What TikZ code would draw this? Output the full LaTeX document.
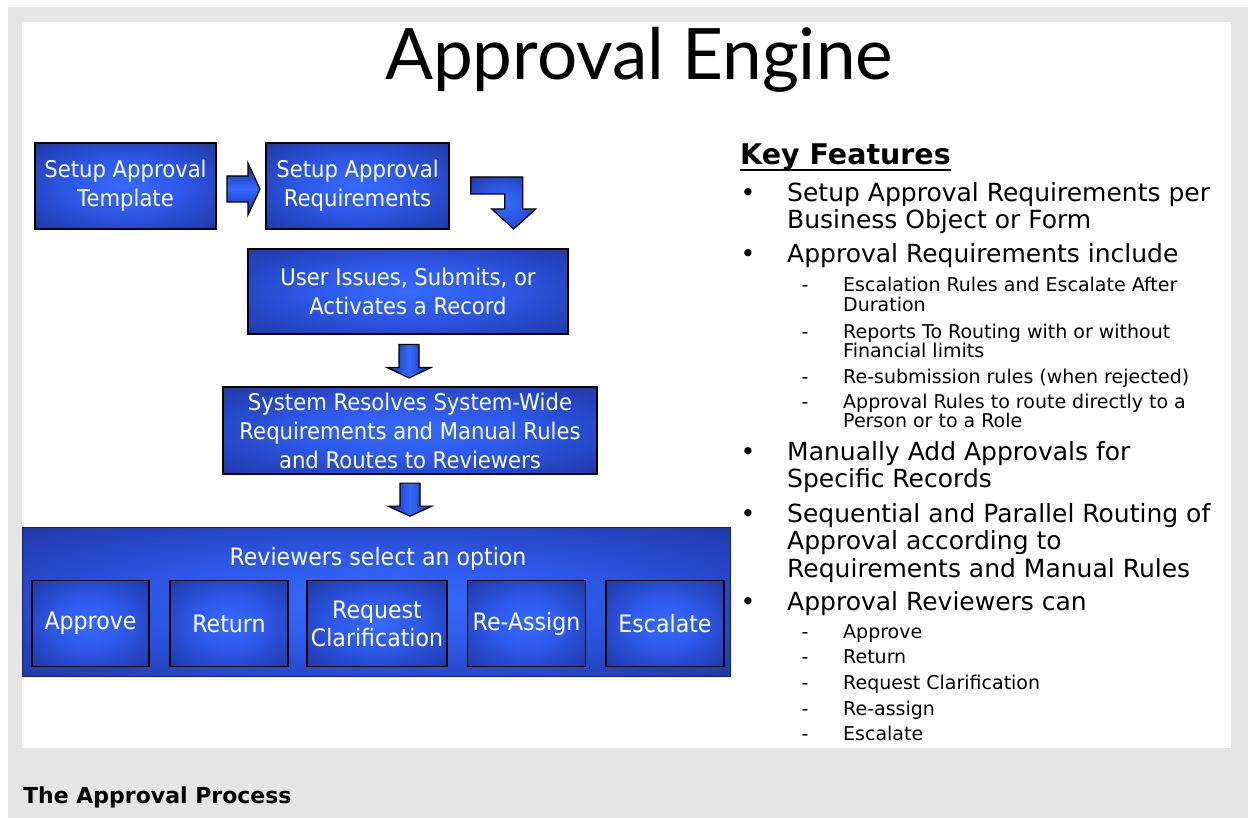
\documentclass[tikz,border=0pt]{standalone}
\usepackage{fontspec}
\setmainfont{DejaVu Sans}
\newfontfamily\titlefont{Lato}
\newfontfamily\boxfont[FakeStretch=0.92]{DejaVu Sans}
\usetikzlibrary{calc}

\definecolor{pagegrey}{RGB}{229,229,229}
\definecolor{glowin}{RGB}{54,106,255}
\definecolor{glowmid}{RGB}{46,90,236}
\definecolor{glowlow}{RGB}{34,62,180}
\definecolor{glowout}{RGB}{24,38,115}
\definecolor{arrowlight}{RGB}{52,104,255}
\definecolor{arrowdark}{RGB}{22,44,150}
\definecolor{panelline}{RGB}{20,34,100}

% soft blue glow used for the process boxes
\pgfdeclareradialshading{boxglow}{\pgfpoint{0bp}{0bp}}{%
  color(0bp)=(glowin); color(14bp)=(glowmid); color(32bp)=(glowlow); color(47bp)=(glowout); color(75bp)=(glowout)}

\tikzset{
  stepbox/.style={draw=black, line width=1.5pt, shading=boxglow, text=white,
    font=\boxfont\fontsize{23}{29}\selectfont, align=center, inner sep=0pt},
  optbox/.style={stepbox, minimum height=86pt, font=\boxfont\fontsize{24}{28}\selectfont},
  panelbox/.style={draw=panelline, line width=1pt, shading=boxglow, inner sep=0pt},
  downarrow/.style={draw=black, line width=1.2pt, line join=miter,
    left color=arrowdark, right color=arrowdark, middle color=arrowlight},
  rightarrow/.style={draw=black, line width=1.2pt, line join=miter,
    top color=arrowdark, bottom color=arrowdark, middle color=arrowlight},
  bentarrow/.style={draw=black, line width=1.2pt, line join=miter, shading=boxglow},
  keytext/.style={anchor=base west, inner sep=0pt, font=\fontsize{25}{29}\selectfont},
  subtext/.style={anchor=base west, inner sep=0pt, font=\fontsize{19}{22}\selectfont},
  bulletmark/.style={anchor=base, inner sep=0pt, font=\fontsize{25}{29}\selectfont},
  dashmark/.style={anchor=base, inner sep=0pt, font=\fontsize{19}{22}\selectfont},
}

\begin{document}
\begin{tikzpicture}[x=1pt,y=-1pt]
\useasboundingbox (0,0) rectangle (1248,818);
% frame
\fill[white] (0,0) rectangle (1248,818);
\fill[pagegrey] (8,7) rectangle (1248,818);
\fill[white] (22,22) rectangle (1231,748);

% title
\node[anchor=base, inner sep=0pt, font=\titlefont\fontsize{71}{80}\selectfont] (title) at (639,80) {Approval Engine};

% process boxes
\node[stepbox, minimum width=181pt, minimum height=86pt] (b1) at (125.5,186) {Setup Approval\\Template};
\node[stepbox, minimum width=183pt, minimum height=86pt] (b2) at (357.5,186) {Setup Approval\\Requirements};
\node[stepbox, minimum width=320pt, minimum height=85pt] (b3) at (408,291.5) {User Issues, Submits, or\\Activates a Record};
\node[stepbox, minimum width=374pt, minimum height=87pt] (b4) at (410,430.5) {System Resolves System-Wide\\Requirements and Manual Rules\\and Routes to Reviewers};

% reviewer panel with its options
\node[panelbox, minimum width=708pt, minimum height=149pt] (panel) at (376,601.5) {};
\node[anchor=center, inner sep=0pt, text=white, font=\boxfont\fontsize{24}{28}\selectfont] (paneltitle) at (378,559) {Reviewers select an option};
\node[optbox, minimum width=117pt] (o1) at (90.5,623.5) {Approve};
\node[optbox, minimum width=118pt] (o2) at (229,623.5) {Return};
\node[optbox, minimum width=140pt] (o3) at (377,623.5) {Request\\Clarification};
\node[optbox, minimum width=118pt] (o4) at (526.5,623.5) {Re-Assign};
\node[optbox, minimum width=118pt] (o5) at (665,623.5) {Escalate};

% block arrows between the steps
\coordinate (a1) at ($(b1.east)!0.5!(b2.west)$);
\draw[rightarrow, shift={(a1)}] (-14,-10) -- (7,-10) -- (7,-23) -- (19,3) -- (7,29) -- (7,16) -- (-14,16) -- cycle;

\coordinate (a2) at (b2.east);
\draw[bentarrow, shift={(a2)}] (21,-9) -- (73,-9) -- (73,23) -- (86,23) -- (64,43) -- (42,23) -- (55,23) -- (55,8) -- (21,8) -- cycle;

\coordinate (a3) at ($(b3.south)!0.5!(b4.north)$);
\draw[downarrow, shift={(a3)}] (-10,-16) -- (10,-16) -- (10,7) -- (22,7) -- (0,17.5) -- (-22,7) -- (-10,7) -- cycle;

\coordinate (a4) at ($(b4.south)!0.5!(b4.south|-panel.north)$);
\draw[downarrow, shift={(a4)}] (-10,-17.5) -- (10,-17.5) -- (10,5.5) -- (22,5.5) -- (0,15.5) -- (-22,5.5) -- (-10,5.5) -- cycle;

% key features list
\node[anchor=base west, inner sep=0pt, font=\bfseries\fontsize{28.5}{32}\selectfont] (kf) at (740,165) {Key Features};
\draw[line width=2pt] ($(kf.base west)+(0,5.5)$) -- ($(kf.base east)+(0,5.5)$);

\node[bulletmark] (m1) at (748,202) {•};
\node[keytext] (k1a) at (787,202) {Setup Approval Requirements per};
\node[keytext] (k1b) at (787,229) {Business Object or Form};
\node[bulletmark] (m2) at (748,263) {•};
\node[keytext] (k2) at (787,263) {Approval Requirements include};
\node[dashmark] (d1) at (805,292) {-};
\node[subtext] (s1a) at (843,292) {Escalation Rules and Escalate After};
\node[subtext] (s1b) at (843,312) {Duration};
\node[dashmark] (d2) at (805,338) {-};
\node[subtext] (s2a) at (843,338) {Reports To Routing with or without};
\node[subtext] (s2b) at (843,357) {Financial limits};
\node[dashmark] (d3) at (805,383) {-};
\node[subtext] (s3) at (843,383) {Re-submission rules (when rejected)};
\node[dashmark] (d4) at (805,408) {-};
\node[subtext] (s4a) at (843,408) {Approval Rules to route directly to a};
\node[subtext] (s4b) at (843,427) {Person or to a Role};
\node[bulletmark] (m3) at (748,460) {•};
\node[keytext] (k3a) at (787,460) {Manually Add Approvals for};
\node[keytext] (k3b) at (787,487) {Specific Records};
\node[bulletmark] (m4) at (748,522) {•};
\node[keytext] (k4a) at (787,522) {Sequential and Parallel Routing of};
\node[keytext] (k4b) at (787,549) {Approval according to};
\node[keytext] (k4c) at (787,577) {Requirements and Manual Rules};
\node[bulletmark] (m5) at (748,610) {•};
\node[keytext] (k5) at (787,610) {Approval Reviewers can};
\node[dashmark] (d5) at (805,638) {-};
\node[subtext] (r1) at (843,638) {Approve};
\node[dashmark] (d6) at (805,663) {-};
\node[subtext] (r2) at (843,663) {Return};
\node[dashmark] (d7) at (805,689) {-};
\node[subtext] (r3) at (843,689) {Request Clarification};
\node[dashmark] (d8) at (805,715) {-};
\node[subtext] (r4) at (843,715) {Re-assign};
\node[dashmark] (d9) at (805,740) {-};
\node[subtext] (r5) at (843,740) {Escalate};

% caption
\node[anchor=base west, inner sep=0pt, font=\bfseries\fontsize{22}{26}\selectfont] (caption) at (23,803) {The Approval Process};
\end{tikzpicture}
\end{document}
